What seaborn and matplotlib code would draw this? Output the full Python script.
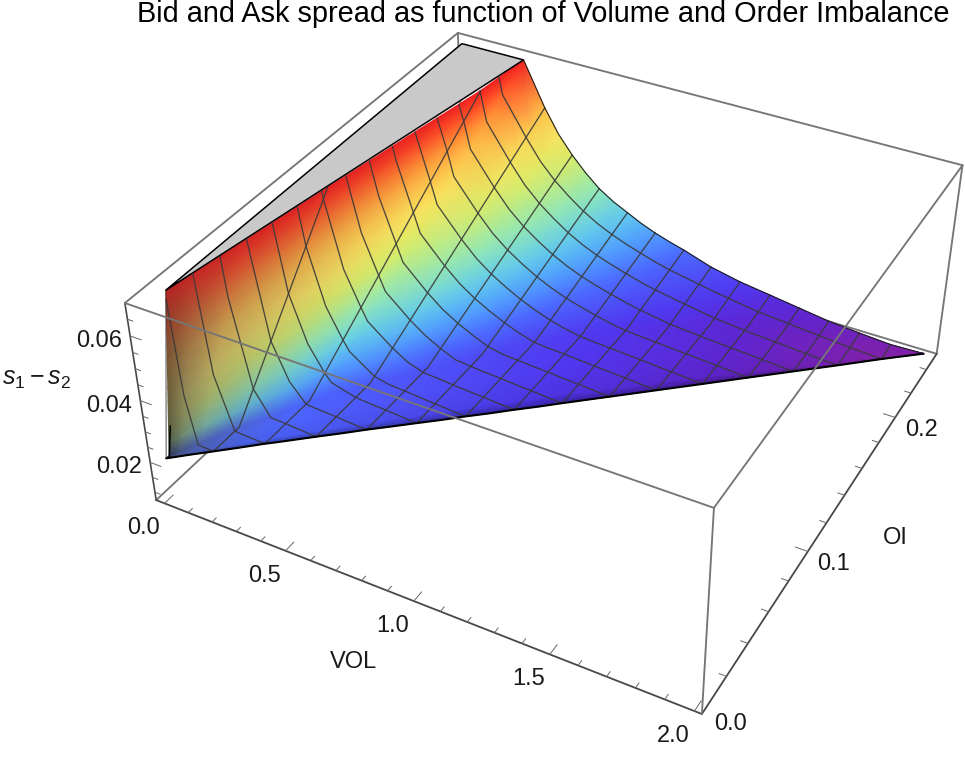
import numpy as np
import matplotlib
matplotlib.use('Agg')
import matplotlib.pyplot as plt
import seaborn as sns
from mpl_toolkits.mplot3d import proj3d

# values: one row per VOL value, with the OI and the height
# at the front edge, at the kink and at the far edge of the sheet
vol_rows = [.0125, .03, .0625, .125, .1875, .25, .275, .375, .4375, .5, .5625, .625, .6875, .75, .8125, .875,
            .9375, 1, 1.125, 1.25, 1.375, 1.5, 1.625, 1.75, 1.875, 2]
oi_front = [.0015, .0037, .0077, .0153, .0230, .0306, .0337, .0459, .0536, .0613, .0689, .0766, .0842, .0919, .0995, .1072,
            .1148, .1225, .1378, .1531, .1684, .1838, .1991, .2144, .2297, .243]
oi_kink = [.0035, .0083, .0171, .0338, .0478, .0639, .0700, .0885, .1000, .1114, .1219, .1330, .1434, .1548, .1621, .1703,
           .1781, .1857, .1966, .2095, .2206, .2233, .2264, .2292, .2306, .243]
oi_back = [.0160, .0300, .0560, .1110, .1635, .2150, .25, .2482, .2477, .2472, .2465, .246, .246, .246, .2455, .2452,
           .2452, .2452, .2432, .2427, .243, .242, .241, .241, .241, .243]
z_front = [.0212, .0211, .0210, .0207, .0204, .0202, .0200, .0195, .0191, .0188, .0184, .0180, .0176, .0173, .0169, .0166,
           .0162, .0159, .0152, .0145, .0138, .0131, .0124, .0117, .0111, .0110]
z_back = [.068, .068, .068, .068, .068, .068, .068, .0547, .0473, .0417, .0372, .0333, .0302, .0278, .0257, .0239,
          .0223, .0209, .0187, .0168, .0152, .0142, .0132, .0123, .0116, .0110]
# how the colours behave close to VOL = 0, where they lag behind the height
row_shade = [.42, .62, .78, .88, .95, 1, 1, 1, 1, 1, 1, 1, 1, 1, 1, 1, 1, 1, 1, 1, 1, 1, 1, 1, 1, 1]
row_mute = [.45, .45, .3, .15, .05, 0, 0, 0, 0, 0, 0, 0, 0, 0, 0, 0, 0, 0, 0, 0, 0, 0, 0, 0, 0, 0]
row_gamma = [.45, .5, .62, .78, .9, 1, 1, 1, 1, 1, 1, 1, 1, 1, 1, 1, 1, 1, 1, 1, 1, 1, 1, 1, 1, 1]

oi_mesh = [.245 * j / 16 for j in range(1, 16)]
vol_mesh = [.125 * j for j in range(1, 16)]
z_top = .068
stub_vol = [.02, .03]
stub_oi = [.0025, .0045]
stub_z = [.0213, .031]

vol_range = (-.035, 2.025)
oi_range = (-.002, .2537)
z_range = (.0073, .0698)
vol_labels = [0.0, 0.5, 1.0, 1.5, 2.0]
oi_labels = [0.0, 0.1, 0.2]
z_labels = [.02, .04, .06]

z_stops = [.0105, .0137, .0164, .0205, .0234, .0273, .0330, .0410, .0475, .0547, .0600, .0640, .0680]
stop_cols = ['#8a1fa0', '#6025d0', '#5038f0', '#4c68ff', '#5098ff', '#60c8f0', '#90e8b8', '#d8ec68', '#f8e460',
             '#ffbe48', '#ff8834', '#ff5028', '#f02020']

sns.set_style('white')
plt.rcParams['font.family'] = ['Liberation Sans', 'DejaVu Sans']
plt.rcParams['mathtext.fontset'] = 'custom'
plt.rcParams['mathtext.rm'] = 'Liberation Sans'
plt.rcParams['mathtext.it'] = 'Liberation Sans:italic'

fig = plt.figure(figsize=(9.65, 7.57), dpi=100)
rect = [0.13327, -0.01248, 0.87968, 1.12139]


def make_3d(z):
    a = fig.add_axes(rect, projection='3d', computed_zorder=False, zorder=z)
    a.set_xlim(*vol_range)
    a.set_ylim(*oi_range)
    a.set_zlim(*z_range)
    a.set_box_aspect((1.0002, 1, .40205))
    a.view_init(elev=36.333, azim=-61.581, roll=0)
    a.set_proj_type('persp', focal_length=.43875)
    a.set_axis_off()
    a.patch.set_alpha(0)
    return a


ax_back = make_3d(1)
ax_flat = fig.add_axes([0, 0, 1, 1], zorder=2)
ax_flat.set_xlim(0, 965)
ax_flat.set_ylim(0, 757)
ax_flat.axis('off')
ax_front = make_3d(3)


def to_px(v, o, z):
    xs, ys, _ = proj3d.proj_transform(np.asarray(v, float), np.asarray(o, float), np.asarray(z, float),
                                      ax_back.get_proj())
    return ax_back.transData.transform(np.c_[xs, ys]).T


v0, v1 = vol_range
o0, o1 = oi_range
z0, z1 = z_range
edge_col = '#767676'
axis_col = '#484848'

# box edges, those in front of the sheet on the upper axes
for a, b, c in [((v0, v0), (o0, o1), (z1, z1)), ((v0, v1), (o1, o1), (z1, z1)), ((v1, v1), (o1, o1), (z0, z1)),
                ((v0, v0), (o1, o1), (z0, z1)), ((v0, v0), (o0, o1), (z0, z0)), ((v0, v1), (o1, o1), (z0, z0))]:
    ax_back.plot(a, b, c, color=edge_col, lw=1.35, clip_on=False)
ax_back.plot((v0, v0), (o0, o0), (z0, z1), color=axis_col, lw=1.2, clip_on=False)
ax_back.plot((v0, v1), (o0, o0), (z0, z0), color=axis_col, lw=1.3, clip_on=False)
ax_back.plot((v1, v1), (o0, o1), (z0, z0), color=axis_col, lw=1.3, clip_on=False)
for a, b, c in [((v0, v1), (o0, o0), (z1, z1)), ((v1, v1), (o0, o1), (z1, z1)), ((v1, v1), (o0, o0), (z0, z1))]:
    ax_front.plot(a, b, c, color=edge_col, lw=1.35, clip_on=False, zorder=9)

# ticks
for t in np.arange(0, 2.001, .1):
    n = .006 if abs(t * 2 - round(t * 2)) < 1e-6 else .003
    ax_back.plot((t, t), (o0, o0 + n), (z0, z0), color='#666666', lw=.7, clip_on=False)
for t in np.arange(.02, .2401, .02):
    n = .045 if abs(t * 10 - round(t * 10)) < 1e-6 else .025
    ax_back.plot((v1 - n, v1), (t, t), (z0, z0), color='#666666', lw=.7, clip_on=False)
for t in np.arange(.01, .0651, .005):
    n = .045 if abs(t * 50 - round(t * 50)) < 1e-6 else .022
    ax_back.plot((v0, v0 + n), (o0, o0), (t, t), color='#666666', lw=.7, clip_on=False)

# sheet, sampled along each VOL row through its three read-off points
rows = np.array(vol_rows)
pal = np.array(sns.color_palette(stop_cols))
lo_t = np.array([0, .12, .5, 1])
up_t = np.linspace(0, 1, 13)[1:]
grid_o = []
grid_z = []
grid_c = []
for i in range(len(rows)):
    grid_o.append(np.r_[oi_front[i] + lo_t * (oi_kink[i] - oi_front[i]), oi_kink[i] + up_t * (oi_back[i] - oi_kink[i])])
    grid_z.append(np.r_[z_front[i] + lo_t * 0, z_front[i] + up_t * (z_back[i] - z_front[i])])
    grid_c.append(np.r_[z_front[i] + lo_t * 0, z_front[i] + up_t ** row_gamma[i] * (z_back[i] - z_front[i])])
grid_o = np.array(grid_o)
grid_z = np.array(grid_z)
grid_c = np.array(grid_c)
grid_v = np.repeat(rows[:, None], grid_o.shape[1], axis=1)
rgb = np.stack([np.interp(grid_c, z_stops, pal[:, k]) for k in range(3)], axis=-1)
frac = np.linspace(0, 1, grid_o.shape[1])
mute = (np.array(row_mute)[:, None] * (1 - .7 * frac ** 3))[..., None]
rgb = (1 - mute) * rgb + mute * rgb.mean(axis=-1, keepdims=True)
col_shade = np.r_[.68, .95, np.ones(grid_o.shape[1] - 2)]
rs = np.array(row_shade)[:, None]
rgb = rgb * (1 - (1 - rs) * (1 - .7 * frac ** 3))[..., None] * col_shade[None, :, None]
px, py = to_px(grid_v.ravel(), grid_o.ravel(), grid_z.ravel())
ax_flat.pcolormesh(px.reshape(grid_v.shape), py.reshape(grid_v.shape), rgb, shading='gouraud', zorder=2)

# clipped top of the sheet
top_i = vol_rows.index(.275)
gx, gy = to_px([vol_rows[0], 0, vol_rows[top_i]], [oi_back[0], .25, .25], [z_top] * 3)
ax_flat.fill(gx, gy, facecolor='#c9c9c9', edgecolor='black', lw=1.1, zorder=3, joinstyle='round')

# mesh lines
mesh_col = '#3a3a3a'
for v in vol_mesh:
    i = vol_rows.index(v)
    ax_front.plot([v] * 3, [oi_front[i], oi_kink[i], oi_back[i]], [z_front[i], z_front[i], z_back[i]],
                  color=mesh_col, lw=.95, alpha=.9, clip_on=False, zorder=4)
for o in oi_mesh:
    vr = np.interp(o, oi_back[:top_i + 1], vol_rows[:top_i + 1])
    vf = np.interp(o, oi_front, vol_rows)
    vs = np.r_[vr, rows[(rows > vr) & (rows < vf)], vf]
    zs = []
    for v in vs:
        zf = np.interp(v, rows, z_front)
        zb = np.interp(v, rows, z_back)
        ok = np.interp(v, rows, oi_kink)
        ob = np.interp(v, rows, oi_back)
        zs.append(np.interp(o, [ok, ob], [zf, zb]))
    ax_front.plot(vs, [o] * len(vs), zs, color=mesh_col, lw=.95, alpha=.9, clip_on=False, zorder=4)

# outline of the sheet
ax_front.plot(vol_rows, oi_front, z_front, color='black', lw=1.5, clip_on=False, zorder=6)
ax_front.plot(vol_rows[top_i:], oi_back[top_i:], z_back[top_i:], color='#202020', lw=.8, clip_on=False, zorder=6)
ax_front.plot([vol_rows[0]] * 2, [oi_front[0], oi_back[0]], [z_front[0], z_top], color='#303030', lw=.6,
              clip_on=False, zorder=6)
ax_front.plot(stub_vol, stub_oi, stub_z, color='black', lw=1.1, clip_on=False, zorder=6)

# labels
fs = 17
txt = '#1a1a1a'
for t in vol_labels:
    x, y = to_px([t], [o0], [z0])
    ax_flat.text(x[0] - 21, y[0] - 25, f'{t:.1f}', fontsize=fs, ha='center', va='center', color=txt)
for t in oi_labels:
    x, y = to_px([v1], [t], [z0])
    ax_flat.text(x[0] + 26, y[0] - 13, f'{t:.1f}', fontsize=fs, ha='center', va='center', color=txt)
for t in z_labels:
    x, y = to_px([v0], [o0], [t])
    ax_flat.text(x[0] - 8, y[0] - 5, f'{t:.2f}', fontsize=fs, ha='right', va='center', color=txt)
ax_flat.text(354, 757 - 662, 'VOL', fontsize=fs, ha='center', va='center', color=txt)
ax_flat.text(895, 757 - 538, 'OI', fontsize=fs, ha='center', va='center', color=txt)
ax_flat.text(37, 757 - 379, r'$s_1 - s_2$', fontsize=18, ha='center', va='center', color=txt)
ax_flat.text(543, 757 - 14, 'Bid and Ask spread as function of Volume and Order Imbalance', fontsize=20.8,
             ha='center', va='center', color='black')

fig.savefig('out.png', dpi=100)
